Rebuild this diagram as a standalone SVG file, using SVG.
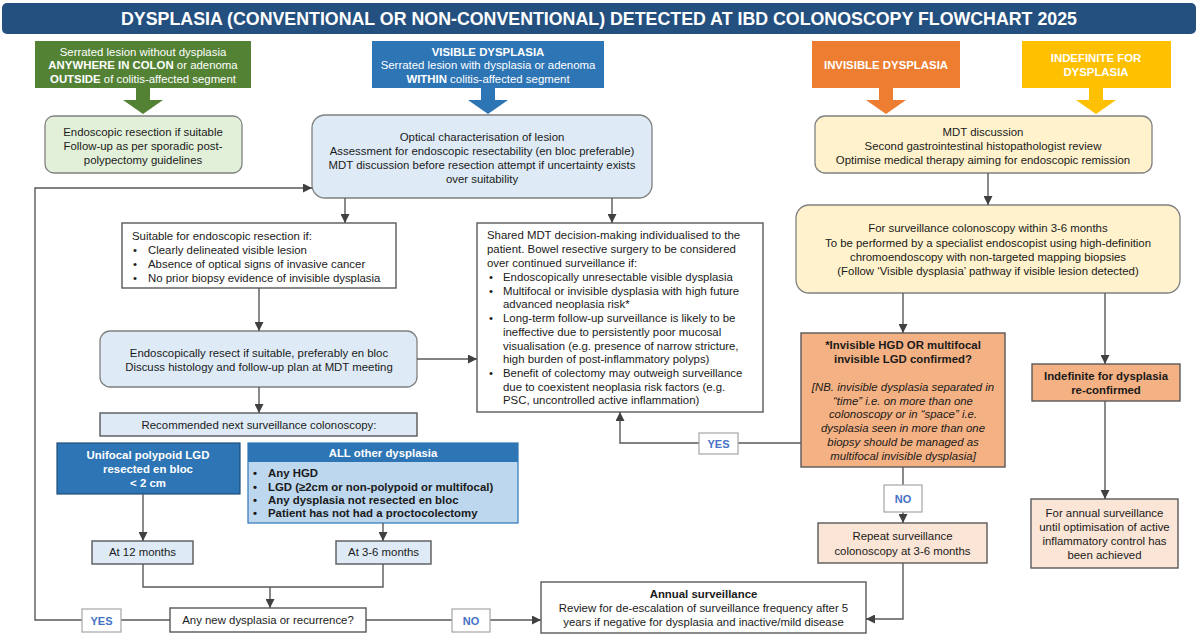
<svg xmlns="http://www.w3.org/2000/svg" width="1199" height="639" viewBox="0 0 1199 639">
<defs>
<marker id="ah" markerUnits="userSpaceOnUse" markerWidth="9" markerHeight="9" refX="9" refY="4.5" orient="auto">
<path d="M0,0 L9,4.5 L0,9 z" fill="#404040"/>
</marker>
<style>
text{font-family:"Liberation Sans",Arial,sans-serif;font-size:11.4px;fill:#1a1a1a}
.c{text-anchor:middle}
.w{fill:#ffffff}
.b{font-weight:bold}
.i{font-style:italic}
.box{stroke:#595959;stroke-width:1.4}
.rbox{stroke:#808080;stroke-width:1.3}
.lbl{fill:#ffffff;stroke:#a6a6a6;stroke-width:1.2}
.lt{fill:#4472c4;font-weight:bold;text-anchor:middle;font-size:11px}
#connectors path{fill:none;stroke:#595959;stroke-width:1.4}
</style>
</defs>
<rect width="1199" height="639" fill="#ffffff"/>

<g id="title">
<rect x="2" y="3" width="1194" height="31" rx="5" fill="#24507f"/>
<text x="599" y="24.5" class="c w b" style="font-size:17.8px">DYSPLASIA (CONVENTIONAL OR NON-CONVENTIONAL) DETECTED AT IBD COLONOSCOPY FLOWCHART 2025</text>
</g>

<g id="hdr-serrated">
<rect x="35" y="41" width="216" height="47" fill="#548235"/>
<path d="M136,88 H150 V100 H163 L143,114 L123,100 H136 Z" fill="#548235"/>
<text x="143" y="55.5" class="c w">Serrated lesion without dysplasia</text>
<text x="143" y="69" class="c w"><tspan class="b w">ANYWHERE IN COLON</tspan> or adenoma</text>
<text x="143" y="82.5" class="c w"><tspan class="b w">OUTSIDE</tspan> of colitis-affected segment</text>
</g>

<g id="hdr-visible">
<rect x="372" y="41" width="232" height="47" fill="#2e75b6"/>
<path d="M481,88 H495 V100 H508 L488,114 L468,100 H481 Z" fill="#2e75b6"/>
<text x="488" y="55.5" class="c w b">VISIBLE DYSPLASIA</text>
<text x="488" y="69" class="c w">Serrated lesion with dysplasia or adenoma</text>
<text x="488" y="82.5" class="c w"><tspan class="b w">WITHIN</tspan> colitis-affected segment</text>
</g>

<g id="hdr-invisible">
<rect x="812" y="41" width="148" height="47" fill="#ed7d31"/>
<path d="M879,88 H893 V100 H906 L886,114 L866,100 H879 Z" fill="#ed7d31"/>
<text x="886" y="69" class="c w b">INVISIBLE DYSPLASIA</text>
</g>

<g id="hdr-indefinite">
<rect x="1022" y="41" width="149" height="47" fill="#ffc000"/>
<path d="M1089,88 H1103 V100 H1116 L1096,114 L1076,100 H1089 Z" fill="#ffc000"/>
<text x="1096" y="62" class="c w b">INDEFINITE FOR</text>
<text x="1096" y="76" class="c w b">DYSPLASIA</text>
</g>

<g id="sporadic">
<rect x="45" y="116" width="197" height="57" rx="9" fill="#e2f0d9" class="rbox"/>
<text x="143" y="136" class="c">Endoscopic resection if suitable</text>
<text x="143" y="150" class="c">Follow-up as per sporadic post-</text>
<text x="143" y="164" class="c">polypectomy guidelines</text>
</g>

<g id="optical">
<rect x="312" y="115" width="340" height="83" rx="13" fill="#deebf7" class="rbox"/>
<text x="482" y="141" class="c">Optical characterisation of lesion</text>
<text x="482" y="155" class="c">Assessment for endoscopic resectability (en bloc preferable)</text>
<text x="482" y="169" class="c">MDT discussion before resection attempt if uncertainty exists</text>
<text x="482" y="183" class="c">over suitability</text>
</g>

<g id="mdt">
<rect x="815" y="116" width="337" height="57" rx="10" fill="#fff2cc" class="rbox"/>
<text x="983" y="136" class="c">MDT discussion</text>
<text x="983" y="150" class="c">Second gastrointestinal histopathologist review</text>
<text x="983" y="164" class="c">Optimise medical therapy aiming for endoscopic remission</text>
</g>

<g id="surveillance">
<rect x="796" y="205" width="384" height="88" rx="13" fill="#fff2cc" class="rbox"/>
<text x="988" y="232" class="c">For surveillance colonoscopy within 3-6 months</text>
<text x="988" y="247" class="c">To be performed by a specialist endoscopist using high-definition</text>
<text x="988" y="261" class="c">chromoendoscopy with non-targeted mapping biopsies</text>
<text x="988" y="275" class="c">(Follow ‘Visible dysplasia’ pathway if visible lesion detected)</text>
</g>

<g id="suitable">
<rect x="122" y="223" width="274" height="65" fill="#ffffff" class="box"/>
<text x="132" y="240">Suitable for endoscopic resection if:</text>
<text x="133" y="254">•</text><text x="148" y="254">Clearly delineated visible lesion</text>
<text x="133" y="268">•</text><text x="148" y="268">Absence of optical signs of invasive cancer</text>
<text x="133" y="282">•</text><text x="148" y="282">No prior biopsy evidence of invisible dysplasia</text>
</g>

<g id="shared">
<rect x="477" y="223" width="286" height="189" fill="#ffffff" class="box"/>
<text x="487" y="239">Shared MDT decision-making individualised to the</text>
<text x="487" y="253">patient. Bowel resective surgery to be considered</text>
<text x="487" y="267">over continued surveillance if:</text>
<text x="489" y="281">•</text><text x="503" y="281">Endoscopically unresectable visible dysplasia</text>
<text x="489" y="295">•</text><text x="503" y="295">Multifocal or invisible dysplasia with high future</text>
<text x="503" y="308">advanced neoplasia risk*</text>
<text x="489" y="322">•</text><text x="503" y="322">Long-term follow-up surveillance is likely to be</text>
<text x="503" y="336">ineffective due to persistently poor mucosal</text>
<text x="503" y="350">visualisation (e.g. presence of narrow stricture,</text>
<text x="503" y="363">high burden of post-inflammatory polyps)</text>
<text x="489" y="377">•</text><text x="503" y="377">Benefit of colectomy may outweigh surveillance</text>
<text x="503" y="391">due to coexistent neoplasia risk factors (e.g.</text>
<text x="503" y="404">PSC, uncontrolled active inflammation)</text>
</g>

<g id="resect">
<rect x="100" y="331" width="317" height="56" rx="10" fill="#deebf7" class="rbox"/>
<text x="259" y="357" class="c">Endoscopically resect if suitable, preferably en bloc</text>
<text x="259" y="371" class="c">Discuss histology and follow-up plan at MDT meeting</text>
</g>

<g id="recommended">
<rect x="100" y="413" width="317" height="23" fill="#deebf7" class="box"/>
<text x="259" y="429" class="c">Recommended next surveillance colonoscopy:</text>
</g>

<g id="unifocal">
<rect x="57" y="443" width="183" height="51" fill="#2e75b6" stroke="#1f4e79" stroke-width="1.2"/>
<text x="148" y="459" class="c w b">Unifocal polypoid LGD</text>
<text x="148" y="473" class="c w b">resected en bloc</text>
<text x="148" y="487" class="c w b">&lt; 2 cm</text>
</g>

<g id="allother">
<rect x="248" y="443" width="270" height="80" fill="#bdd7ee" stroke="#2e75b6" stroke-width="1.2"/>
<rect x="248" y="443" width="270" height="19" fill="#2e75b6"/>
<text x="383" y="457" class="c w b">ALL other dysplasia</text>
<text x="253" y="477" class="b">•</text><text x="268" y="477" class="b">Any HGD</text>
<text x="253" y="491" class="b">•</text><text x="268" y="491" class="b">LGD (≥2cm or non-polypoid or multifocal)</text>
<text x="253" y="504" class="b">•</text><text x="268" y="504" class="b">Any dysplasia not resected en bloc</text>
<text x="253" y="517" class="b">•</text><text x="268" y="517" class="b">Patient has not had a proctocolectomy</text>
</g>

<g id="at12">
<rect x="92" y="541" width="101" height="23" fill="#deebf7" class="box"/>
<text x="142.5" y="556" class="c">At 12 months</text>
</g>

<g id="at36">
<rect x="336" y="541" width="95" height="23" fill="#deebf7" class="box"/>
<text x="383.5" y="556" class="c">At 3-6 months</text>
</g>

<g id="anynew">
<rect x="170" y="608" width="196" height="24" fill="#ffffff" class="box"/>
<text x="268" y="624" class="c">Any new dysplasia or recurrence?</text>
</g>

<g id="annual">
<rect x="541" y="582" width="325" height="51" fill="#ffffff" class="box"/>
<text x="703.5" y="598" class="c b">Annual surveillance</text>
<text x="703.5" y="612" class="c">Review for de-escalation of surveillance frequency after 5</text>
<text x="703.5" y="626" class="c">years if negative for dysplasia and inactive/mild disease</text>
</g>

<g id="invisible-q">
<rect x="801" y="333" width="204" height="134" fill="#f4b183" class="box"/>
<text x="903" y="349" class="c b">*Invisible HGD OR multifocal</text>
<text x="903" y="363" class="c b">invisible LGD confirmed?</text>
<text x="903" y="391" class="c i">[NB. invisible dysplasia separated in</text>
<text x="903" y="405" class="c i">“time” i.e. on more than one</text>
<text x="903" y="418" class="c i">colonoscopy or in “space” i.e.</text>
<text x="903" y="432" class="c i">dysplasia seen in more than one</text>
<text x="903" y="446" class="c i">biopsy should be managed as</text>
<text x="903" y="460" class="c i">multifocal invisible dysplasia]</text>
</g>

<g id="indefinite">
<rect x="1032" y="364" width="148" height="37" fill="#f4b183" class="box"/>
<text x="1106" y="380" class="c b">Indefinite for dysplasia</text>
<text x="1106" y="394" class="c b">re-confirmed</text>
</g>

<g id="repeat">
<rect x="818" y="523" width="169" height="40" fill="#fbe5d6" class="box"/>
<text x="902.5" y="540" class="c">Repeat surveillance</text>
<text x="902.5" y="555" class="c">colonoscopy at 3-6 months</text>
</g>

<g id="forannual">
<rect x="1031" y="499" width="147" height="69" fill="#fbe5d6" class="box"/>
<text x="1104.5" y="517" class="c">For annual surveillance</text>
<text x="1104.5" y="531" class="c">until optimisation of active</text>
<text x="1104.5" y="545" class="c">inflammatory control has</text>
<text x="1104.5" y="559" class="c">been achieved</text>
</g>

<g id="connectors">
<path d="M345,198 V223" marker-end="url(#ah)"/>
<path d="M612,198 V223" marker-end="url(#ah)"/>
<path d="M259,288 V331" marker-end="url(#ah)"/>
<path d="M417,359 H477" marker-end="url(#ah)"/>
<path d="M259,387 V413" marker-end="url(#ah)"/>
<path d="M143,494 V541" marker-end="url(#ah)"/>
<path d="M383,523 V541" marker-end="url(#ah)"/>
<path d="M143,564 V587 H383 V564"/>
<path d="M270,587 V608" marker-end="url(#ah)"/>
<path d="M170,620 H121"/>
<path d="M82,620 H35 V188 H312" marker-end="url(#ah)"/>
<path d="M366,620 H452"/>
<path d="M490,620 H541" marker-end="url(#ah)"/>
<path d="M988,173 V205" marker-end="url(#ah)"/>
<path d="M903,293 V333" marker-end="url(#ah)"/>
<path d="M1105,293 V364" marker-end="url(#ah)"/>
<path d="M1105,401 V499" marker-end="url(#ah)"/>
<path d="M903,467 V485"/>
<path d="M903,512 V523" marker-end="url(#ah)"/>
<path d="M903,563 V619 H866" marker-end="url(#ah)"/>
<path d="M801,443 H738"/>
<path d="M699,443 H620 V412" marker-end="url(#ah)"/>
</g>

<g id="labels">
<rect x="82" y="609" width="39" height="23" class="lbl"/>
<text x="101.5" y="624.5" class="lt">YES</text>
<rect x="452" y="609" width="38" height="23" class="lbl"/>
<text x="471" y="624.5" class="lt">NO</text>
<rect x="699" y="433" width="39" height="21" class="lbl"/>
<text x="718.5" y="447.5" class="lt">YES</text>
<rect x="884" y="485" width="38" height="27" class="lbl"/>
<text x="903" y="502.5" class="lt">NO</text>
</g>
</svg>
